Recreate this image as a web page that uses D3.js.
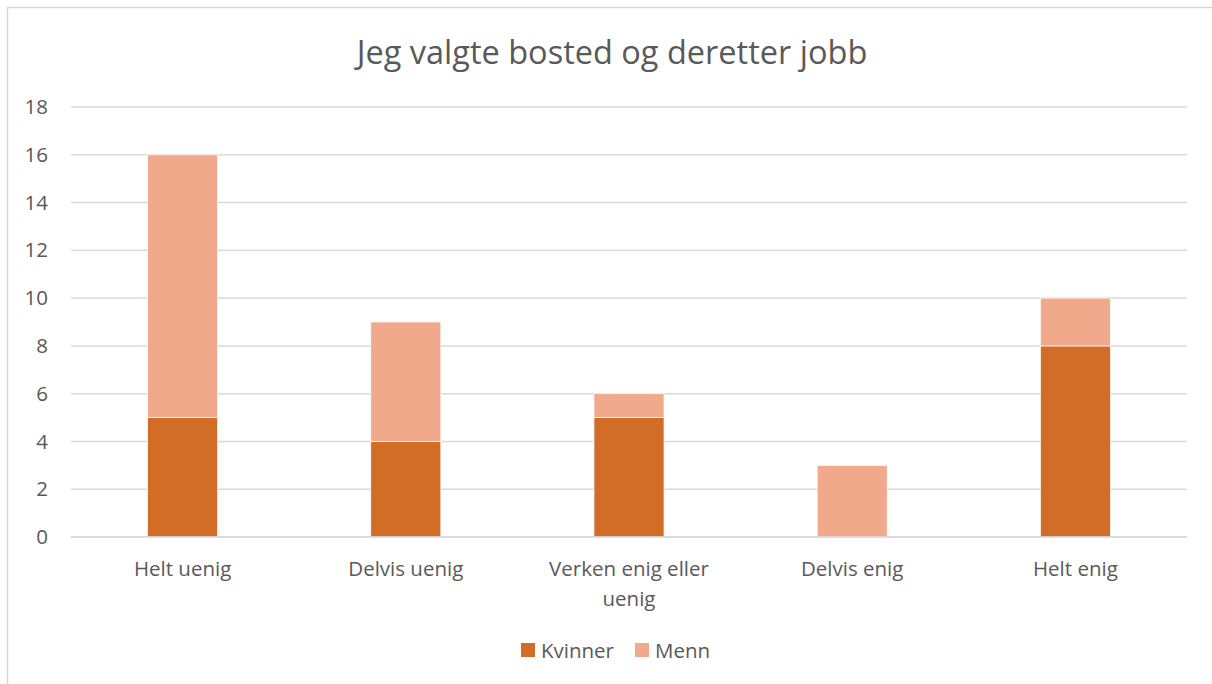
<!DOCTYPE html>
<html>
<head>
<meta charset="utf-8">
<script src="https://cdn.jsdelivr.net/npm/d3@7"></script>
<style>
  body { margin: 0; background: #fff; }
  text { font-family: "Open Sans", "Noto Sans", sans-serif; fill: #595959; }
</style>
</head>
<body>
<svg id="chart" width="1212" height="684"></svg>
<script>
const categories = ['Helt uenig', 'Delvis uenig', 'Verken enig eller uenig', 'Delvis enig', 'Helt enig']
const kvinner = [5, 4, 5, 0, 8]
const menn = [11, 5, 1, 3, 2]
const seriesNames = ['Kvinner', 'Menn']
const yTicks = [0, 2, 4, 6, 8, 10, 12, 14, 16, 18]
const colors = ['#D26D28', '#F1A98B']

const svg = d3.select('#chart')

// outer chart frame
svg.append('rect')
  .attr('x', 7.5).attr('y', 7.5)
  .attr('width', 1210).attr('height', 690)
  .attr('fill', '#fff')
  .attr('stroke', '#d9d9d9')
  .attr('stroke-width', 1.5)

const margin = { left: 71, right: 1187, top: 107, bottom: 537 }

const table = categories.map((c, i) => ({ cat: c, Kvinner: kvinner[i], Menn: menn[i] }))
const stacked = d3.stack().keys(seriesNames)(table)

const x = d3.scaleBand()
  .domain(categories)
  .range([margin.left, margin.right])
  .paddingInner(0.686)
  .paddingOuter(0.343)

const y = d3.scaleLinear()
  .domain([0, 18])
  .range([margin.bottom, margin.top])

// gridlines
svg.append('g')
  .selectAll('line')
  .data(yTicks)
  .join('line')
  .attr('x1', margin.left)
  .attr('x2', margin.right)
  .attr('y1', d => y(d))
  .attr('y2', d => y(d))
  .attr('stroke', '#d9d9d9')
  .attr('stroke-width', 1.5)

// y axis labels
const yAxis = d3.axisLeft(y).tickValues(yTicks).tickSize(0).tickPadding(0)
svg.append('g')
  .attr('transform', 'translate(48,0)')
  .call(yAxis)
  .call(g => g.select('.domain').remove())
  .call(g => g.selectAll('text')
    .attr('font-size', 20.5)
    .style('font-family', '"Open Sans", sans-serif')
    .attr('fill', '#595959'))

// bars
svg.append('g')
  .selectAll('g')
  .data(stacked)
  .join('g')
  .attr('fill', (d, i) => colors[i])
  .selectAll('rect')
  .data(d => d.map(v => ({ v, cat: v.data.cat })))
  .join('rect')
  .attr('x', d => x(d.cat))
  .attr('width', x.bandwidth())
  .attr('y', d => y(d.v[1]))
  .attr('height', d => y(d.v[0]) - y(d.v[1]))
  .attr('stroke', '#fff')
  .attr('stroke-width', d => (d.v[1] > d.v[0] ? 0.75 : 0))

// x axis line
svg.append('line')
  .attr('x1', margin.left).attr('x2', margin.right)
  .attr('y1', y(0)).attr('y2', y(0))
  .attr('stroke', '#d9d9d9').attr('stroke-width', 1.5)

// category labels, wrapped
const wrapLines = {
  'Verken enig eller uenig': ['Verken enig eller', 'uenig']
}
const xl = svg.append('g')
  .selectAll('text')
  .data(categories)
  .join('text')
  .attr('x', d => x(d) + x.bandwidth() / 2)
  .attr('y', 576)
  .attr('text-anchor', 'middle')
  .attr('font-size', 20.5)
xl.each(function (d) {
  const lines = wrapLines[d] || [d]
  d3.select(this).selectAll('tspan')
    .data(lines)
    .join('tspan')
    .attr('x', x(d) + x.bandwidth() / 2)
    .attr('dy', (l, i) => (i === 0 ? 0 : 30))
    .text(l => l)
})

// title
svg.append('text')
  .attr('x', 612)
  .attr('y', 64)
  .attr('text-anchor', 'middle')
  .attr('font-size', 32.5)
  .text('Jeg valgte bosted og deretter jobb')

// legend
const legend = svg.append('g')
  .selectAll('g')
  .data(seriesNames)
  .join('g')
  .attr('transform', (d, i) => `translate(${[521, 635][i]},643)`)
legend.append('rect')
  .attr('width', 14).attr('height', 14)
  .attr('fill', (d, i) => colors[i])
legend.append('text')
  .attr('x', 20)
  .attr('y', 14.5)
  .attr('font-size', 20.5)
  .text(d => d)
</script>
</body>
</html>
